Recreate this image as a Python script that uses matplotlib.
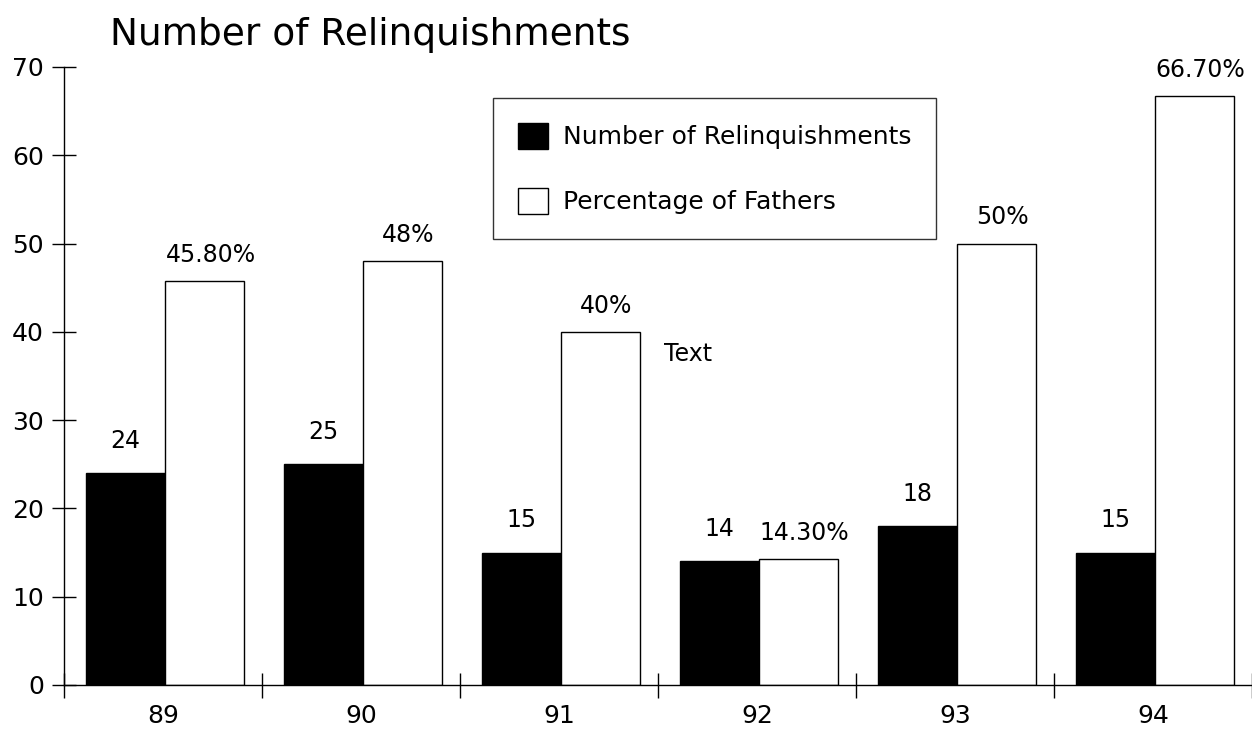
import numpy as np
import matplotlib.pyplot as plt

# data
years = ['89', '90', '91', '92', '93', '94']
relinquishments = [24, 25, 15, 14, 18, 15]
pct_fathers = [45.8, 48, 40, 14.3, 50, 66.7]
pct_labels = ['45.80%', '48%', '40%', '14.30%', '50%', '66.70%']

plt.rcParams['font.family'] = ['DejaVu Sans']

fig = plt.figure(figsize=(12.52, 7.4), dpi=100)
ax = fig.add_axes([64 / 1252, 1 - 685 / 740, 1 - 64 / 1252, (685 - 67) / 740])

x = np.arange(len(years))
w = 0.4
b1 = ax.bar(x - w / 2 + 0.01, relinquishments, w, color='black', edgecolor='black',
            linewidth=1, label='Number of Relinquishments')
b2 = ax.bar(x + w / 2 + 0.01, pct_fathers, w, color='white', edgecolor='black',
            linewidth=1, label='Percentage of Fathers')

for rect, v in zip(b1, relinquishments):
    ax.text(rect.get_x() + rect.get_width() / 2, v + 2.3, str(v),
            ha='center', va='bottom', fontsize=17)
for rect, v, s in zip(b2, pct_fathers, pct_labels):
    ax.text(rect.get_x() + rect.get_width() / 2 + 0.03, v + 1.6, s,
            ha='center', va='bottom', fontsize=17)

ax.text(2.53, 37.5, 'Text', ha='left', va='center', fontsize=17)

ax.set_xlim(-0.5, 5.5)
ax.set_ylim(0, 70)
ax.set_yticks(range(0, 71, 10))
ax.set_xticks(np.arange(-0.5, 6, 1))
ax.set_xticklabels([])
ax.set_xticks(x, minor=True)
ax.set_xticklabels(years, minor=True)
ax.tick_params(axis='x', which='minor', length=0, pad=14, labelsize=18)
ax.tick_params(axis='x', which='major', direction='inout', length=18, width=1)
ax.tick_params(axis='y', direction='inout', length=17, width=1, labelsize=18, pad=6)

for s in ['top', 'right']:
    ax.spines[s].set_visible(False)
ax.spines['left'].set_linewidth(1)
ax.spines['bottom'].set_linewidth(1)

leg = ax.legend(loc='upper left', bbox_to_anchor=(0.361, 0.95), fontsize=18,
                frameon=True, fancybox=False, edgecolor='black',
                handlelength=1.2, handleheight=1.2, labelspacing=1.55,
                borderpad=1.0, handletextpad=0.6, borderaxespad=0)
leg.get_frame().set_linewidth(1)

fig.text(110 / 1252, 1 - 35 / 740, 'Number of Relinquishments', fontsize=27,
         ha='left', va='center')

fig.savefig('out.png', dpi=100)
